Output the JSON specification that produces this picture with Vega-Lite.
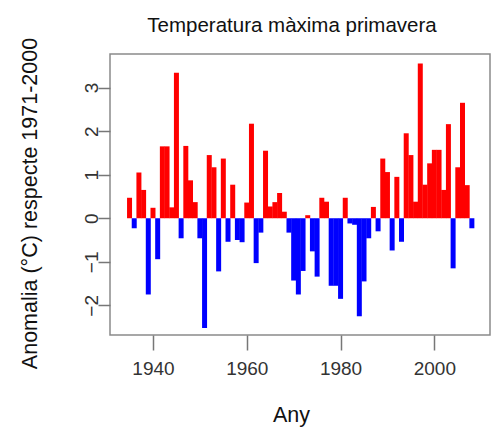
{
  "$schema": "https://vega.github.io/schema/vega-lite/v6.json",
  "width": 380,
  "height": 281,
  "autosize": {"type": "none"},
  "padding": {"left": 110, "top": 54, "right": 2, "bottom": 97},
  "background": "white",
  "title": {
    "text": "Temperatura màxima primavera",
    "font": "Liberation Sans",
    "fontSize": 20.5,
    "fontWeight": "normal",
    "color": "#111111",
    "anchor": "middle",
    "offset": 1,
    "dx": -8
  },
  "data": {
    "values": [
      {"any": 1935, "anomalia": 0.47},
      {"any": 1936, "anomalia": -0.23},
      {"any": 1937, "anomalia": 1.05},
      {"any": 1938, "anomalia": 0.65},
      {"any": 1939, "anomalia": -1.75},
      {"any": 1940, "anomalia": 0.24},
      {"any": 1941, "anomalia": -0.94},
      {"any": 1942, "anomalia": 1.65},
      {"any": 1943, "anomalia": 1.65},
      {"any": 1944, "anomalia": 0.25},
      {"any": 1945, "anomalia": 3.34},
      {"any": 1946, "anomalia": -0.46},
      {"any": 1947, "anomalia": 1.66},
      {"any": 1948, "anomalia": 0.87},
      {"any": 1949, "anomalia": 0.37},
      {"any": 1950, "anomalia": -0.46},
      {"any": 1951, "anomalia": -2.52},
      {"any": 1952, "anomalia": 1.45},
      {"any": 1953, "anomalia": 1.17},
      {"any": 1954, "anomalia": -1.22},
      {"any": 1955, "anomalia": 1.37},
      {"any": 1956, "anomalia": -0.54},
      {"any": 1957, "anomalia": 0.77},
      {"any": 1958, "anomalia": -0.5},
      {"any": 1959, "anomalia": -0.55},
      {"any": 1960, "anomalia": 0.36},
      {"any": 1961, "anomalia": 2.17},
      {"any": 1962, "anomalia": -1.03},
      {"any": 1963, "anomalia": -0.33},
      {"any": 1964, "anomalia": 1.55},
      {"any": 1965, "anomalia": 0.27},
      {"any": 1966, "anomalia": 0.37},
      {"any": 1967, "anomalia": 0.58},
      {"any": 1968, "anomalia": 0.15},
      {"any": 1969, "anomalia": -0.33},
      {"any": 1970, "anomalia": -1.43},
      {"any": 1971, "anomalia": -1.75},
      {"any": 1972, "anomalia": -1.21},
      {"any": 1973, "anomalia": 0.07},
      {"any": 1974, "anomalia": -0.76},
      {"any": 1975, "anomalia": -1.34},
      {"any": 1976, "anomalia": 0.47},
      {"any": 1977, "anomalia": 0.38},
      {"any": 1978, "anomalia": -1.55},
      {"any": 1979, "anomalia": -1.55},
      {"any": 1980, "anomalia": -1.85},
      {"any": 1981, "anomalia": 0.47},
      {"any": 1982, "anomalia": -0.12},
      {"any": 1983, "anomalia": -0.15},
      {"any": 1984, "anomalia": -2.25},
      {"any": 1985, "anomalia": -1.45},
      {"any": 1986, "anomalia": -0.46},
      {"any": 1987, "anomalia": 0.26},
      {"any": 1988, "anomalia": -0.3},
      {"any": 1989, "anomalia": 1.37},
      {"any": 1990, "anomalia": 1.06},
      {"any": 1991, "anomalia": -0.74},
      {"any": 1992, "anomalia": 0.95},
      {"any": 1993, "anomalia": -0.54},
      {"any": 1994, "anomalia": 1.95},
      {"any": 1995, "anomalia": 1.45},
      {"any": 1996, "anomalia": 0.38},
      {"any": 1997, "anomalia": 3.55},
      {"any": 1998, "anomalia": 0.77},
      {"any": 1999, "anomalia": 1.26},
      {"any": 2000, "anomalia": 1.57},
      {"any": 2001, "anomalia": 1.57},
      {"any": 2002, "anomalia": 0.65},
      {"any": 2003, "anomalia": 2.16},
      {"any": 2004, "anomalia": -1.15},
      {"any": 2005, "anomalia": 1.17},
      {"any": 2006, "anomalia": 2.65},
      {"any": 2007, "anomalia": 0.76},
      {"any": 2008, "anomalia": -0.23}
    ]
  },
  "mark": {"type": "bar", "size": 5},
  "encoding": {
    "x": {
      "field": "any",
      "type": "quantitative",
      "scale": {"domain": [1931.9, 2010.8], "nice": false, "zero": false},
      "axis": {
        "values": [1940, 1960, 1980, 2000],
        "format": "d",
        "tickSize": 15,
        "tickColor": "#777777",
        "tickWidth": 1.5,
        "labelFont": "Liberation Sans",
        "labelFontSize": 19,
        "labelColor": "#333333",
        "labelBaseline": "top",
        "labelPadding": 9,
        "labelFlush": false,
        "title": "Any",
        "titleFont": "Liberation Sans",
        "titleFontSize": 21.5,
        "titleFontWeight": "normal",
        "titleColor": "#111111",
        "titleX": 181,
        "titleY": 86,
        "titleAlign": "center",
        "titleBaseline": "alphabetic"
      }
    },
    "y": {
      "field": "anomalia",
      "type": "quantitative",
      "scale": {"domain": [-2.68, 3.77], "nice": false},
      "axis": {
        "values": [-2, -1, 0, 1, 2, 3],
        "tickSize": 12,
        "tickColor": "#777777",
        "tickWidth": 1.5,
        "labelFont": "Liberation Sans",
        "labelFontSize": 19,
        "labelColor": "#333333",
        "labelAngle": 270,
        "labelAlign": "center",
        "labelBaseline": "alphabetic",
        "labelPadding": 1,
        "labelFlush": false,
        "title": "Anomalia (°C) respecte 1971-2000",
        "titleFont": "Liberation Sans",
        "titleFontSize": 21.5,
        "titleFontWeight": "normal",
        "titleColor": "#111111",
        "titleAngle": 270,
        "titleX": -74,
        "titleY": 149,
        "titleAlign": "center",
        "titleBaseline": "alphabetic"
      }
    },
    "color": {
      "condition": {"test": "datum.anomalia >= 0", "value": "#ff0000"},
      "value": "#0000ff"
    }
  },
  "config": {
    "view": {"stroke": "#8a8a8a", "strokeWidth": 1.5},
    "axis": {"grid": false, "domain": false}
  }
}
